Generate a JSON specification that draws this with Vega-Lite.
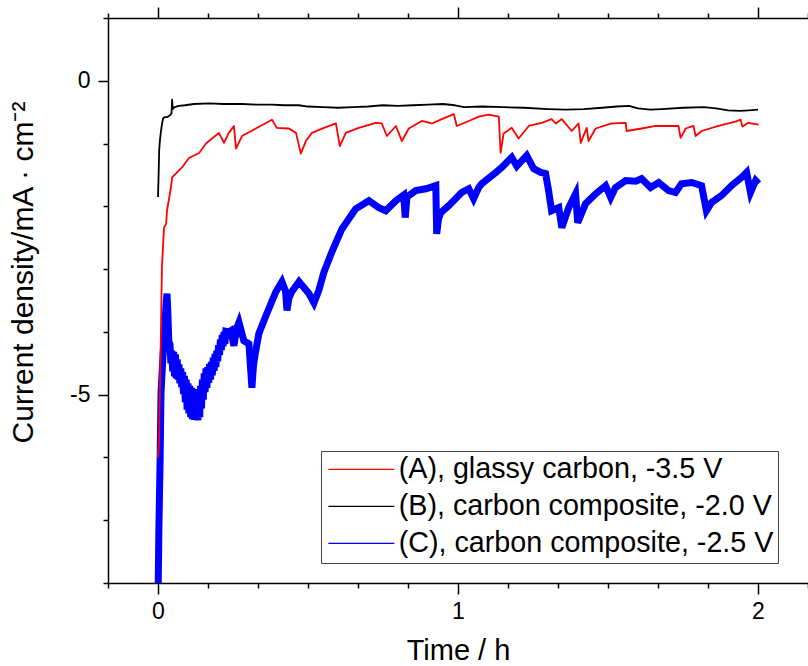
{
"$schema": "https://vega.github.io/schema/vega-lite/v6.json",
"width": 700, "height": 565,
"autosize": {"type": "none"},
"padding": {"left": 108, "top": 18, "right": 0, "bottom": 83},
"background": "white",
"config": {"view": {"stroke": null}, "font": "Liberation Sans"},
"data": {"values": [
{"s":"C","t":0.000,"j":-8.3},{"s":"C","t":0.003,"j":-7.12},{"s":"C","t":0.007,"j":-6.05},{"s":"C","t":0.010,"j":-4.98},{"s":"C","t":0.013,"j":-4.7},{"s":"C","t":0.017,"j":-4.35},{"s":"C","t":0.023,"j":-3.93},{"s":"C","t":0.027,"j":-3.55},{"s":"C","t":0.030,"j":-3.39},{"s":"C","t":0.033,"j":-3.71},{"s":"C","t":0.036,"j":-4.15},
{"s":"C","t":0.040,"j":-4.20},{"s":"C","t":0.043,"j":-4.50},{"s":"C","t":0.046,"j":-4.30},{"s":"C","t":0.049,"j":-4.63},{"s":"C","t":0.052,"j":-4.32},{"s":"C","t":0.055,"j":-4.71},{"s":"C","t":0.058,"j":-4.36},{"s":"C","t":0.061,"j":-4.74},{"s":"C","t":0.064,"j":-4.44},{"s":"C","t":0.067,"j":-4.76},{"s":"C","t":0.070,"j":-4.52},{"s":"C","t":0.073,"j":-4.82},{"s":"C","t":0.076,"j":-4.58},{"s":"C","t":0.079,"j":-4.88},{"s":"C","t":0.082,"j":-4.64},{"s":"C","t":0.085,"j":-4.99},{"s":"C","t":0.088,"j":-4.70},{"s":"C","t":0.091,"j":-5.12},{"s":"C","t":0.094,"j":-4.76},{"s":"C","t":0.097,"j":-5.24},{"s":"C","t":0.100,"j":-4.82},{"s":"C","t":0.103,"j":-5.30},{"s":"C","t":0.106,"j":-4.86},{"s":"C","t":0.109,"j":-5.36},{"s":"C","t":0.112,"j":-4.89},{"s":"C","t":0.115,"j":-5.39},{"s":"C","t":0.118,"j":-4.92},{"s":"C","t":0.121,"j":-5.40},{"s":"C","t":0.124,"j":-4.92},{"s":"C","t":0.127,"j":-5.40},{"s":"C","t":0.130,"j":-4.91},{"s":"C","t":0.133,"j":-5.41},{"s":"C","t":0.136,"j":-4.94},{"s":"C","t":0.139,"j":-5.36},{"s":"C","t":0.142,"j":-4.86},{"s":"C","t":0.145,"j":-5.22},{"s":"C","t":0.148,"j":-4.76},{"s":"C","t":0.151,"j":-5.08},{"s":"C","t":0.154,"j":-4.66},{"s":"C","t":0.157,"j":-4.96},{"s":"C","t":0.160,"j":-4.58},{"s":"C","t":0.163,"j":-4.89},{"s":"C","t":0.166,"j":-4.56},{"s":"C","t":0.169,"j":-4.81},{"s":"C","t":0.172,"j":-4.51},{"s":"C","t":0.175,"j":-4.76},{"s":"C","t":0.178,"j":-4.48},{"s":"C","t":0.181,"j":-4.69},{"s":"C","t":0.184,"j":-4.41},{"s":"C","t":0.187,"j":-4.62},{"s":"C","t":0.190,"j":-4.35},{"s":"C","t":0.193,"j":-4.56},{"s":"C","t":0.196,"j":-4.30},{"s":"C","t":0.199,"j":-4.47},{"s":"C","t":0.202,"j":-4.21},{"s":"C","t":0.205,"j":-4.37},{"s":"C","t":0.208,"j":-4.12},{"s":"C","t":0.211,"j":-4.29},{"s":"C","t":0.214,"j":-4.05},{"s":"C","t":0.217,"j":-4.23},{"s":"C","t":0.220,"j":-4.00},{"s":"C","t":0.223,"j":-4.19},{"s":"C","t":0.226,"j":-3.99},
{"s":"C","t":0.236,"j":-4.0},{"s":"C","t":0.243,"j":-3.98},{"s":"C","t":0.253,"j":-4.22},{"s":"C","t":0.262,"j":-3.95},{"s":"C","t":0.270,"j":-3.85},{"s":"C","t":0.286,"j":-4.14},{"s":"C","t":0.303,"j":-4.19},{"s":"C","t":0.313,"j":-4.89},{"s":"C","t":0.318,"j":-4.55},{"s":"C","t":0.323,"j":-4.38},{"s":"C","t":0.336,"j":-4.03},{"s":"C","t":0.360,"j":-3.74},{"s":"C","t":0.393,"j":-3.36},{"s":"C","t":0.413,"j":-3.20},{"s":"C","t":0.425,"j":-3.35},{"s":"C","t":0.430,"j":-3.66},{"s":"C","t":0.436,"j":-3.47},{"s":"C","t":0.446,"j":-3.36},{"s":"C","t":0.470,"j":-3.20},{"s":"C","t":0.503,"j":-3.39},{"s":"C","t":0.520,"j":-3.54},{"s":"C","t":0.536,"j":-3.34},{"s":"C","t":0.553,"j":-3.05},{"s":"C","t":0.580,"j":-2.72},{"s":"C","t":0.613,"j":-2.36},{"s":"C","t":0.659,"j":-2.04},{"s":"C","t":0.703,"j":-1.91},{"s":"C","t":0.736,"j":-2.02},{"s":"C","t":0.759,"j":-2.07},{"s":"C","t":0.793,"j":-1.91},{"s":"C","t":0.819,"j":-1.82},{"s":"C","t":0.824,"j":-2.18},{"s":"C","t":0.830,"j":-1.85},{"s":"C","t":0.859,"j":-1.75},{"s":"C","t":0.893,"j":-1.72},{"s":"C","t":0.926,"j":-1.67},{"s":"C","t":0.929,"j":-2.44},{"s":"C","t":0.935,"j":-2.2},{"s":"C","t":0.943,"j":-2.1},{"s":"C","t":0.969,"j":-1.99},{"s":"C","t":1.012,"j":-1.78},{"s":"C","t":1.036,"j":-1.72},{"s":"C","t":1.052,"j":-1.88},{"s":"C","t":1.069,"j":-1.70},{"s":"C","t":1.079,"j":-1.64},{"s":"C","t":1.126,"j":-1.46},{"s":"C","t":1.146,"j":-1.38},{"s":"C","t":1.179,"j":-1.22},{"s":"C","t":1.196,"j":-1.36},{"s":"C","t":1.229,"j":-1.19},{"s":"C","t":1.252,"j":-1.40},{"s":"C","t":1.276,"j":-1.46},{"s":"C","t":1.292,"j":-1.48},{"s":"C","t":1.302,"j":-1.75},{"s":"C","t":1.312,"j":-2.07},{"s":"C","t":1.336,"j":-2.02},{"s":"C","t":1.346,"j":-2.34},{"s":"C","t":1.369,"j":-2.02},{"s":"C","t":1.392,"j":-1.80},{"s":"C","t":1.399,"j":-2.26},{"s":"C","t":1.425,"j":-1.96},{"s":"C","t":1.459,"j":-1.80},{"s":"C","t":1.492,"j":-1.67},{"s":"C","t":1.509,"j":-1.86},{"s":"C","t":1.525,"j":-1.70},{"s":"C","t":1.559,"j":-1.59},{"s":"C","t":1.592,"j":-1.60},{"s":"C","t":1.612,"j":-1.56},{"s":"C","t":1.642,"j":-1.70},{"s":"C","t":1.669,"j":-1.62},{"s":"C","t":1.702,"j":-1.75},{"s":"C","t":1.725,"j":-1.78},{"s":"C","t":1.745,"j":-1.64},{"s":"C","t":1.779,"j":-1.62},{"s":"C","t":1.812,"j":-1.67},{"s":"C","t":1.828,"j":-2.07},{"s":"C","t":1.845,"j":-1.94},{"s":"C","t":1.878,"j":-1.83},{"s":"C","t":1.912,"j":-1.67},{"s":"C","t":1.945,"j":-1.54},{"s":"C","t":1.962,"j":-1.46},{"s":"C","t":1.975,"j":-1.78},{"s":"C","t":1.992,"j":-1.59},{"s":"C","t":2.002,"j":-1.64},
{"s":"B","t":0.000,"j":-1.85},{"s":"B","t":0.002,"j":-1.5},{"s":"B","t":0.004,"j":-1.1},{"s":"B","t":0.007,"j":-0.92},{"s":"B","t":0.010,"j":-0.80},{"s":"B","t":0.013,"j":-0.70},{"s":"B","t":0.017,"j":-0.60},{"s":"B","t":0.022,"j":-0.58},{"s":"B","t":0.030,"j":-0.58},{"s":"B","t":0.040,"j":-0.55},{"s":"B","t":0.045,"j":-0.52},{"s":"B","t":0.047,"j":-0.30},{"s":"B","t":0.049,"j":-0.45},{"s":"B","t":0.055,"j":-0.42},{"s":"B","t":0.07,"j":-0.40},{"s":"B","t":0.09,"j":-0.39},{"s":"B","t":0.12,"j":-0.37},{"s":"B","t":0.17,"j":-0.36},{"s":"B","t":0.22,"j":-0.37},{"s":"B","t":0.28,"j":-0.37},{"s":"B","t":0.33,"j":-0.38},{"s":"B","t":0.38,"j":-0.38},{"s":"B","t":0.42,"j":-0.39},{"s":"B","t":0.47,"j":-0.39},{"s":"B","t":0.50,"j":-0.41},{"s":"B","t":0.55,"j":-0.42},{"s":"B","t":0.60,"j":-0.43},{"s":"B","t":0.65,"j":-0.42},{"s":"B","t":0.70,"j":-0.41},{"s":"B","t":0.75,"j":-0.39},{"s":"B","t":0.80,"j":-0.40},{"s":"B","t":0.85,"j":-0.39},{"s":"B","t":0.90,"j":-0.38},{"s":"B","t":0.95,"j":-0.37},{"s":"B","t":0.99,"j":-0.39},{"s":"B","t":1.02,"j":-0.42},{"s":"B","t":1.08,"j":-0.41},{"s":"B","t":1.15,"j":-0.42},{"s":"B","t":1.22,"j":-0.43},{"s":"B","t":1.30,"j":-0.45},{"s":"B","t":1.36,"j":-0.46},{"s":"B","t":1.42,"j":-0.45},{"s":"B","t":1.48,"j":-0.43},{"s":"B","t":1.53,"j":-0.41},{"s":"B","t":1.57,"j":-0.40},{"s":"B","t":1.60,"j":-0.44},{"s":"B","t":1.64,"j":-0.46},{"s":"B","t":1.68,"j":-0.45},{"s":"B","t":1.75,"j":-0.43},{"s":"B","t":1.82,"j":-0.42},{"s":"B","t":1.86,"j":-0.44},{"s":"B","t":1.90,"j":-0.47},{"s":"B","t":1.94,"j":-0.48},{"s":"B","t":1.97,"j":-0.47},{"s":"B","t":2.00,"j":-0.46},
{"s":"A","t":0.000,"j":-6.0},{"s":"A","t":0.003,"j":-5.78},{"s":"A","t":0.007,"j":-4.78},{"s":"A","t":0.010,"j":-3.93},{"s":"A","t":0.013,"j":-2.98},{"s":"A","t":0.020,"j":-2.34},{"s":"A","t":0.027,"j":-2.28},{"s":"A","t":0.030,"j":-2.07},{"s":"A","t":0.043,"j":-1.70},{"s":"A","t":0.047,"j":-1.54},{"s":"A","t":0.080,"j":-1.38},{"s":"A","t":0.103,"j":-1.23},{"s":"A","t":0.137,"j":-1.15},{"s":"A","t":0.160,"j":-1.00},{"s":"A","t":0.170,"j":-0.96},{"s":"A","t":0.203,"j":-0.83},{"s":"A","t":0.220,"j":-0.99},{"s":"A","t":0.236,"j":-0.83},{"s":"A","t":0.253,"j":-0.72},{"s":"A","t":0.260,"j":-1.08},{"s":"A","t":0.280,"j":-0.88},{"s":"A","t":0.326,"j":-0.76},{"s":"A","t":0.380,"j":-0.62},{"s":"A","t":0.396,"j":-0.75},{"s":"A","t":0.436,"j":-0.76},{"s":"A","t":0.460,"j":-0.83},{"s":"A","t":0.476,"j":-1.16},{"s":"A","t":0.493,"j":-0.96},{"s":"A","t":0.513,"j":-0.83},{"s":"A","t":0.553,"j":-0.75},{"s":"A","t":0.593,"j":-0.68},{"s":"A","t":0.606,"j":-1.04},{"s":"A","t":0.626,"j":-0.83},{"s":"A","t":0.669,"j":-0.75},{"s":"A","t":0.726,"j":-0.67},{"s":"A","t":0.746,"j":-0.68},{"s":"A","t":0.763,"j":-0.88},{"s":"A","t":0.793,"j":-0.72},{"s":"A","t":0.813,"j":-0.96},{"s":"A","t":0.836,"j":-0.76},{"s":"A","t":0.879,"j":-0.64},{"s":"A","t":0.913,"j":-0.68},{"s":"A","t":0.946,"j":-0.61},{"s":"A","t":0.986,"j":-0.53},{"s":"A","t":0.996,"j":-0.72},{"s":"A","t":1.036,"j":-0.64},{"s":"A","t":1.069,"j":-0.57},{"s":"A","t":1.102,"j":-0.54},{"s":"A","t":1.136,"j":-0.57},{"s":"A","t":1.142,"j":-1.15},{"s":"A","t":1.152,"j":-0.84},{"s":"A","t":1.179,"j":-0.75},{"s":"A","t":1.202,"j":-0.92},{"s":"A","t":1.236,"j":-0.72},{"s":"A","t":1.279,"j":-0.67},{"s":"A","t":1.312,"j":-0.61},{"s":"A","t":1.326,"j":-0.68},{"s":"A","t":1.346,"j":-0.61},{"s":"A","t":1.379,"j":-0.80},{"s":"A","t":1.402,"j":-0.68},{"s":"A","t":1.409,"j":-0.99},{"s":"A","t":1.429,"j":-0.75},{"s":"A","t":1.435,"j":-0.96},{"s":"A","t":1.459,"j":-0.76},{"s":"A","t":1.512,"j":-0.68},{"s":"A","t":1.559,"j":-0.67},{"s":"A","t":1.562,"j":-0.80},{"s":"A","t":1.612,"j":-0.76},{"s":"A","t":1.659,"j":-0.72},{"s":"A","t":1.735,"j":-0.72},{"s":"A","t":1.742,"j":-0.91},{"s":"A","t":1.759,"j":-0.76},{"s":"A","t":1.785,"j":-0.72},{"s":"A","t":1.792,"j":-0.88},{"s":"A","t":1.812,"j":-0.80},{"s":"A","t":1.868,"j":-0.72},{"s":"A","t":1.925,"j":-0.65},{"s":"A","t":1.942,"j":-0.62},{"s":"A","t":1.948,"j":-0.73},{"s":"A","t":1.968,"j":-0.67},{"s":"A","t":2.002,"j":-0.70}
]},
"layer": [
{
"transform": [{"filter": "datum.s == 'C'"}],
"mark": {"type": "line", "clip": true, "strokeJoin": "miter", "strokeWidth": 7},
"encoding": {
"x": {"field": "t", "type": "quantitative",
 "scale": {"domain": [-0.16667, 2.16667], "nice": false, "zero": false},
 "axis": {"orient": "bottom", "grid": false,
  "values": [-0.16667, 0, 0.16667, 0.33333, 0.5, 0.66667, 0.83333, 1, 1.16667, 1.33333, 1.5, 1.66667, 1.83333, 2, 2.16667],
  "labelExpr": "abs(datum.value - round(datum.value)) < 0.001 ? format(round(datum.value), 'd') : ''",
  "tickSize": {"condition": {"test": "abs(datum.value - round(datum.value)) < 0.001", "value": 11}, "value": 5},
  "tickColor": "black", "tickWidth": 1.5, "domainColor": "black", "domainWidth": 1.5,
  "labelFontSize": 23, "labelColor": "black", "labelPadding": 6, "labelFlush": false, "labelOverlap": false,
  "title": "Time / h", "titleFontSize": 29, "titleFontWeight": "normal", "titleColor": "black",
  "titleY": 67, "titleBaseline": "middle"}},
"y": {"field": "j", "type": "quantitative",
 "scale": {"domain": [-8, 1], "nice": false, "zero": false},
 "axis": {"orient": "left", "grid": false,
  "values": [1, 0, -1, -2, -3, -4, -5, -6, -7, -8],
  "labelExpr": "datum.value == 0 ? '0' : (datum.value == -5 ? '-5' : '')",
  "tickSize": {"condition": {"test": "datum.value == 0 || datum.value == -5", "value": 10}, "value": 5},
  "tickColor": "black", "tickWidth": 1.5, "domainColor": "black", "domainWidth": 1.5,
  "labelFontSize": 23, "labelColor": "black", "labelPadding": 8, "labelFlush": false,
  "title": "Current density/mA · cm⁻²", "titleFontSize": 30, "titleFontWeight": "normal", "titleColor": "black",
  "titleAngle": -90, "titleX": -85, "titleY": 254, "titleAlign": "center", "titleBaseline": "middle"}},
"color": {"field": "s", "type": "nominal",
 "scale": {"domain": ["A", "B", "C"], "range": ["#ff0000", "#000000", "#0000ff"]},
 "legend": {"orient": "none", "legendX": 213, "legendY": 433, "title": null,
  "symbolType": "M-1,0H5", "symbolSize": 484, "symbolStrokeWidth": 1.2, "symbolOffset": 0,
  "labelFontSize": 28.7, "labelColor": "black", "labelOffset": 45, "labelLimit": 600,
  "rowPadding": 7, "padding": 4, "strokeColor": "#444444", "fillColor": "white",
  "labelExpr": "datum.label == 'A' ? '(A), glassy carbon, -3.5 V' : (datum.label == 'B' ? '(B), carbon composite, -2.0 V' : '(C), carbon composite, -2.5 V')"}}
}
},
{
"transform": [{"filter": "datum.s != 'C'"}],
"mark": {"type": "line", "clip": true, "strokeJoin": "round", "strokeWidth": 1.8},
"encoding": {
"x": {"field": "t", "type": "quantitative",
 "scale": {"domain": [-0.16667, 2.16667], "nice": false, "zero": false}, "axis": null},
"y": {"field": "j", "type": "quantitative"},
"color": {"field": "s", "type": "nominal"}
}
},
{
"mark": {"type": "rule", "opacity": 0},
"encoding": {
"x": {"field": "t", "type": "quantitative",
 "scale": {"domain": [-0.16667, 2.16667], "nice": false, "zero": false},
 "axis": {"orient": "top", "grid": false, "labels": false, "title": null,
  "values": [-0.16667, 0, 0.16667, 0.33333, 0.5, 0.66667, 0.83333, 1, 1.16667, 1.33333, 1.5, 1.66667, 1.83333, 2, 2.16667],
  "tickSize": {"condition": {"test": "abs(datum.value - round(datum.value)) < 0.001", "value": 11}, "value": 5},
  "tickColor": "black", "tickWidth": 1.5, "domainColor": "black", "domainWidth": 1.5}}
}
}
],
"resolve": {"axis": {"x": "independent"}}
}
